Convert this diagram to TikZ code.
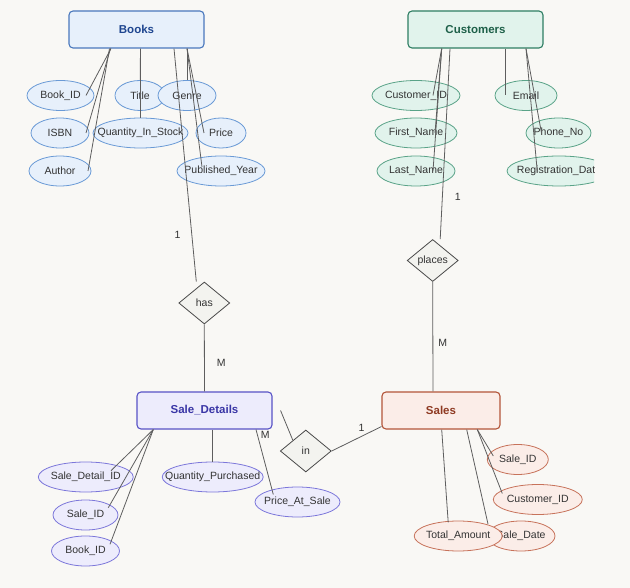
\documentclass[tikz,border=0pt]{standalone}
\usepackage{fontspec}
\setmainfont{Liberation Sans}
\usetikzlibrary{calc,shapes.geometric}
\definecolor{bgcol}{HTML}{F9F8F5}
\definecolor{bookfill}{HTML}{E7F0FB}
\definecolor{bookline}{HTML}{4A78BD}
\definecolor{booktext}{HTML}{1F4690}
\definecolor{bookattr}{HTML}{6A9AD6}
\definecolor{custfill}{HTML}{E1F3EC}
\definecolor{custline}{HTML}{2E7E63}
\definecolor{custtext}{HTML}{1E6049}
\definecolor{custattr}{HTML}{5AA388}
\definecolor{sdfill}{HTML}{EDECFC}
\definecolor{sdline}{HTML}{5853C6}
\definecolor{sdtext}{HTML}{3A36A6}
\definecolor{sdattr}{HTML}{7C77DA}
\definecolor{salefill}{HTML}{FBEDE8}
\definecolor{saleline}{HTML}{B3553A}
\definecolor{saletext}{HTML}{8E3A22}
\definecolor{saleattr}{HTML}{C7725A}
\definecolor{relfill}{HTML}{F3F3EF}
\definecolor{relline}{HTML}{4A4A4A}
\definecolor{linegray}{HTML}{5E5E5E}
\definecolor{textgray}{HTML}{333333}
\tikzset{
  entity/.style={draw, rounded corners=4pt, line width=1.1pt, minimum width=135pt,
    minimum height=37pt, font=\bfseries\fontsize{11.5}{13}\selectfont},
  attr/.style={ellipse, draw, line width=0.8pt, minimum width=#1pt, minimum height=30pt,
    inner sep=0pt, font=\fontsize{10.5}{12}\selectfont, text=textgray,
    execute at begin node={\hbox to 0pt\bgroup\hss},
    execute at end node={\hss\egroup}},
  bk/.style={fill=bookfill, draw=bookattr},
  cu/.style={fill=custfill, draw=custattr},
  sd/.style={fill=sdfill, draw=sdattr},
  sa/.style={fill=salefill, draw=saleattr},
  rel/.style={diamond, draw=relline, fill=relfill, line width=0.8pt, minimum width=51pt,
    minimum height=42pt, inner sep=0pt, font=\fontsize{10.5}{12}\selectfont, text=textgray},
  conn/.style={draw=linegray, line width=0.8pt},
  card/.style={font=\fontsize{10.5}{12}\selectfont, text=textgray, inner sep=0pt},
}
\begin{document}
\begin{tikzpicture}[x=1pt, y=-1pt]
  \fill[bgcol] (0,0) rectangle (630,588);
  \useasboundingbox (0,0) rectangle (630,588);
  \begin{scope}
  \clip (0,0) rectangle (594,588);

  % Entities
  \node[entity, fill=bookfill, draw=bookline, text=booktext] (books) at (136.5,29.5) {Books};
  \node[entity, fill=custfill, draw=custline, text=custtext] (cust) at (475.5,29.5) {Customers};
  \node[entity, fill=sdfill, draw=sdline, text=sdtext] (sdet) at (204.5,410.5) {Sale\_Details};
  \node[entity, fill=salefill, draw=saleline, text=saletext, minimum width=118pt] (sales) at (441,410.5) {Sales};

  % Relationships
  \node[rel] (has) at (204.3,303) {has};
  \node[rel] (places) at (432.7,260.5) {places};
  \node[rel] (in) at (305.8,451) {in};

  % Book attributes
  \node[attr=67, bk] (bookid) at (60.5,95.5) {Book\_ID};
  \node[attr=50, bk] (title) at (140,95.5) {Title};
  \node[attr=58, bk] (genre) at (187,95.5) {Genre};
  \node[attr=58, bk] (isbn) at (60,133) {ISBN};
  \node[attr=95, bk] (qty) at (140.5,133) {Quantity\_In\_Stock};
  \node[attr=50, bk] (price) at (221,133) {Price};
  \node[attr=62, bk] (author) at (60,171) {Author};
  \node[attr=88, bk] (pubyear) at (221,171) {Published\_Year};

  % Customer attributes
  \node[attr=88, cu] (cid) at (416,95.5) {Customer\_ID};
  \node[attr=82, cu] (fname) at (416,133) {First\_Name};
  \node[attr=78, cu] (lname) at (416,171) {Last\_Name};
  \node[attr=62, cu] (email) at (526,95.5) {Email};
  \node[attr=65, cu] (phone) at (558.5,133) {Phone\_No};
  \node[attr=104, cu] (regdate) at (559,171) {Registration\_Date};

  % Sale_Details attributes
  \node[attr=95, sd] (sdid) at (85.8,477) {Sale\_Detail\_ID};
  \node[attr=65, sd] (sdsale) at (85.5,515) {Sale\_ID};
  \node[attr=68, sd] (sdbook) at (85.5,551) {Book\_ID};
  \node[attr=101, sd] (qpur) at (212.7,477) {Quantity\_Purchased};
  \node[attr=85, sd] (pas) at (297.5,502) {Price\_At\_Sale};

  % Sales attributes
  \node[attr=61, sa] (ssale) at (517.8,459.5) {Sale\_ID};
  \node[attr=89, sa] (scust) at (537.8,499.5) {Customer\_ID};
  \node[attr=68, sa] (sdate) at (521,536) {Sale\_Date};
  \node[attr=88, sa] (tamt) at (458.2,536) {Total\_Amount};

  % Books links
  \draw[conn] ($(books.south)+(-25.5,0)$) -- ($(bookid)+(25.5,0)$);
  \draw[conn] ($(books.south)+(-26,0)$) -- ($(isbn)+(26,0)$);
  \draw[conn] ($(books.south)+(-27,0)$) -- ($(author)+(28,0)$);
  \draw[conn] ($(books.south)+(4,0)$) -- (title);
  \draw[conn] ($(books.south)+(4,0)$) -- (qty.north);
  \draw[conn] ($(books.south)+(50.5,0)$) -- (genre.north);
  \draw[conn] ($(books.south)+(50.5,0)$) -- ($(price)+(-17,0)$);
  \draw[conn] ($(books.south)+(50.5,0)$) -- ($(pubyear)+(-19,-4)$);
  \draw[conn] ($(books.south)+(37.5,0)$) -- node[card, pos=0.8, left=11pt] (c1) {1} ($(has.north)+(-8,0)$);
  \draw[conn] (has.south) -- node[card, pos=0.57, right=12pt] (c2) {M} (sdet.north);

  % Customers links
  \draw[conn] ($(cust.south)+(-33.8,0)$) -- ($(cid)+(17,0)$);
  \draw[conn] ($(cust.south)+(-33.8,0)$) -- ($(fname)+(19,0)$);
  \draw[conn] ($(cust.south)+(-33.8,0)$) -- ($(lname)+(17,0)$);
  \draw[conn] ($(cust.south)+(29.5,0)$) -- ($(email)+(-21,0)$);
  \draw[conn] ($(cust.south)+(50.5,0)$) -- ($(phone)+(-17,0)$);
  \draw[conn] ($(cust.south)+(50.5,0)$) -- ($(regdate)+(-21.7,0.7)$);
  \draw[conn] ($(cust.south)+(-25.5,0)$) -- node[card, pos=0.78, right=12pt] (c3) {1} ($(places.north)+(7.5,0)$);
  \draw[conn] (places.south) -- node[card, pos=0.56, right=5pt] (c4) {M} ($(sales.north)+(-8,0)$);

  % Sale_Details links
  \draw[conn] ($(sdet.south)+(-51.2,0)$) -- ($(sdid)+(25.2,-6.3)$);
  \draw[conn] ($(sdet.south)+(-51.2,0)$) -- ($(sdsale)+(22.8,-7.3)$);
  \draw[conn] ($(sdet.south)+(-51.2,0)$) -- ($(sdbook)+(24.5,-6.7)$);
  \draw[conn] ($(sdet.south)+(8.2,0)$) -- (qpur.north);
  \draw[conn] ($(sdet.south)+(51.5,0)$) -- node[card, pos=0.08, right=3pt] (c5) {M} ($(pas)+(-24.2,-7.5)$);
  \draw[conn] ($(sdet.east)+(8,0)$) -- (in.north west);
  \draw[conn] (in.east) -- node[card, pos=0.6, above=4pt] (c6) {1} ($(sales.south west)+(0,-3)$);

  % Sales links
  \draw[conn] ($(sales.south)+(0.7,0)$) -- ($(tamt.north)+(-10,1.7)$);
  \draw[conn] ($(sales.south)+(25.7,0)$) -- ($(sdate)+(-33,-12)$);
  \draw[conn] ($(sales.south)+(36.3,0)$) -- ($(ssale)+(-24.5,-3.5)$);
  \draw[conn] ($(sales.south)+(36.3,0)$) -- ($(scust)+(-35.5,-6)$);
  \end{scope}
\end{tikzpicture}
\end{document}
